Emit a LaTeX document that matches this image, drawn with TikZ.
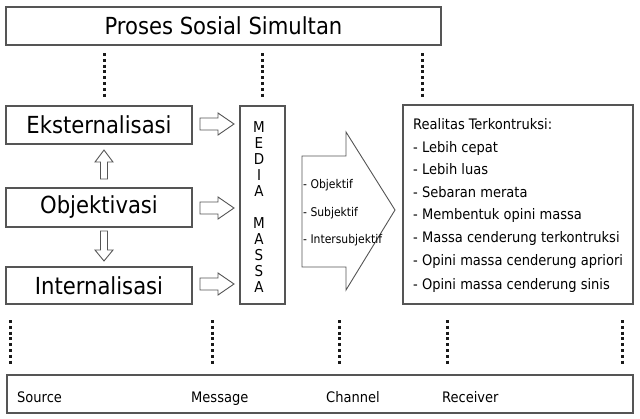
\documentclass[tikz,border=0pt]{standalone}
\usepackage{fontspec}
\setmainfont{DejaVu Sans Condensed}
\definecolor{linegray}{HTML}{555555}
\definecolor{dotgray}{HTML}{1A1A1A}
\begin{document}
\begin{tikzpicture}[x=1pt,y=-1pt,
  box/.style={draw=linegray, line width=1.1pt, inner sep=0pt, text=black},
  lbl/.style={inner sep=0pt, text=black},
  dots/.style={draw=dotgray, line width=3pt, dash pattern=on 3pt off 2.8pt},
  blockarrow/.style={draw=linegray, line width=0.9pt, fill=white, line join=miter},
  big/.style={font=\fontsize{23.5}{27}\selectfont},
  mid/.style={font=\fontsize{14.5}{17}\selectfont},
  small/.style={font=\fontsize{12}{14}\selectfont},
  letter/.style={font=\fontsize{15}{17}\selectfont, inner sep=0pt}]
\useasboundingbox (0,0) rectangle (640,418);

% top box
\node[box, minimum width=435pt, minimum height=38pt, font=\fontsize{23.5}{27}\selectfont] (top) at (223.5,26) {Proses Sosial Simultan};

% left boxes
\node[box, big, minimum width=186pt, minimum height=38pt] (ekst) at (99,125) {Eksternalisasi};
\node[box, big, minimum width=186pt, minimum height=39pt] (obj) at (99,207.5) {Objektivasi};
\node[box, big, minimum width=186pt, minimum height=37pt] (int) at (99,285.5) {Internalisasi};

% media massa box
\node[box, minimum width=45pt, minimum height=198pt] (media) at (262.5,205) {};
\foreach \l [count=\k from 0] in {M,E,D,I,A,,M,A,S,S,A}{
  \node[letter] (ml\k) at (259,127+16*\k) {\l};
}

% realitas box
\node[box, minimum width=230pt, minimum height=199pt] (real) at (518,204.5) {};
\node[lbl, mid, anchor=base west] (r0) at (413,129.5) {Realitas Terkontruksi:};
\node[lbl, mid, anchor=base west] (r1) at (413,152) {- Lebih cepat};
\node[lbl, mid, anchor=base west] (r2) at (413,174.5) {- Lebih luas};
\node[lbl, mid, anchor=base west] (r3) at (413,197) {- Sebaran merata};
\node[lbl, mid, anchor=base west] (r4) at (413,219.5) {- Membentuk opini massa};
\node[lbl, mid, anchor=base west] (r5) at (413,242) {- Massa cenderung terkontruksi};
\node[lbl, mid, anchor=base west] (r6) at (413,265) {- Opini massa cenderung apriori};
\node[lbl, mid, anchor=base west] (r7) at (413,289.5) {- Opini massa cenderung sinis};

% small right block arrows
\foreach \yy/\nm in {124/a1,208/a2,284/a3}{
  \draw[blockarrow] (200,\yy-6) -- (218,\yy-6) -- (218,\yy-11) -- (234,\yy) -- (218,\yy+11) -- (218,\yy+6) -- (200,\yy+6) -- cycle;
}
% up arrow
\draw[blockarrow] (104,150) -- (113,162) -- (107.5,162) -- (107.5,179) -- (100.5,179) -- (100.5,162) -- (95,162) -- cycle;
% down arrow
\draw[blockarrow] (104,261) -- (113,250) -- (107.5,250) -- (107.5,231) -- (100.5,231) -- (100.5,250) -- (95,250) -- cycle;

% big arrow
\draw[blockarrow] (302,156) -- (346,156) -- (346,132) -- (395,210) -- (346,290) -- (346,267) -- (302,267) -- cycle;
\node[lbl, small, anchor=base west] (b1) at (303,188) {- Objektif};
\node[lbl, small, anchor=base west] (b2) at (303,216) {- Subjektif};
\node[lbl, small, anchor=base west] (b3) at (303,243) {- Intersubjektif};

% top dotted lines
\foreach \xx/\nm in {104/t1,262/t2,422/t3}{
  \coordinate (\nm a) at (\xx,53);
  \coordinate (\nm b) at (\xx,97);
  \draw[dots] (\nm a) -- (\nm b);
}

% bottom box
\node[box, minimum width=626pt, minimum height=38pt] (bottom) at (320,394) {};
\node[lbl, mid, anchor=base west] (src) at (17,402) {Source};
\node[lbl, mid, anchor=base west] (msg) at (191,402) {Message};
\node[lbl, mid, anchor=base west] (chn) at (326,402) {Channel};
\node[lbl, mid, anchor=base west] (rcv) at (442,402) {Receiver};

% bottom dotted lines
\foreach \xx/\nm in {10/u1,212/u2,339/u3,447/u4,622/u5}{
  \coordinate (\nm a) at (\xx,320);
  \coordinate (\nm b) at (\xx,364);
  \draw[dots] (\nm a) -- (\nm b);
}
\end{tikzpicture}
\end{document}
